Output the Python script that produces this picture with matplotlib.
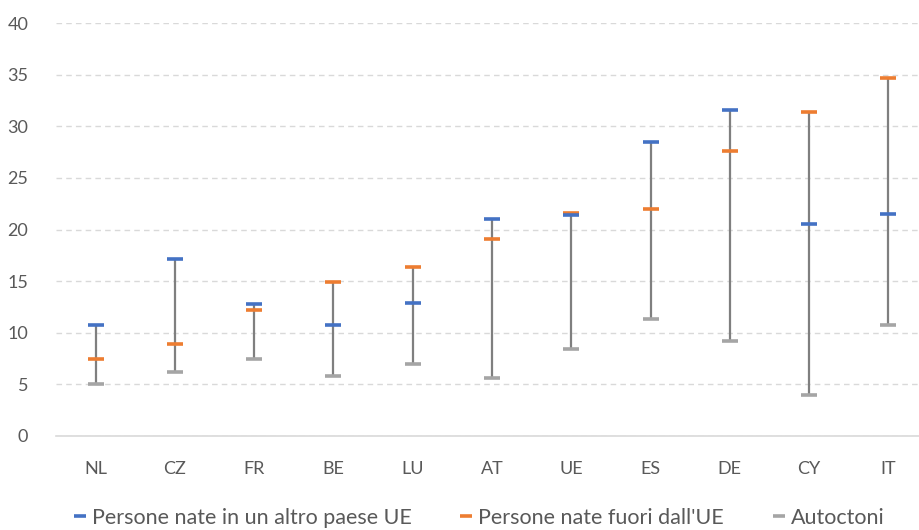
import matplotlib.pyplot as plt
import numpy as np

plt.rcParams['font.family'] = ['Lato', 'DejaVu Sans']

paesi = ['NL', 'CZ', 'FR', 'BE', 'LU', 'AT', 'UE', 'ES', 'DE', 'CY', 'IT']
altro_ue = [10.7, 17.1, 12.8, 10.7, 12.9, 21.0, 21.4, 28.5, 31.6, 20.5, 21.5]
fuori_ue = [7.4, 8.9, 12.2, 14.9, 16.4, 19.1, 21.6, 22.0, 27.6, 31.4, 34.7]
autoctoni = [5.0, 6.2, 7.4, 5.8, 7.0, 5.6, 8.4, 11.3, 9.2, 3.9, 10.7]

c_blue = '#4472C4'
c_orange = '#ED7D31'
c_gray = '#A5A5A5'
c_text = '#595959'

fig = plt.figure(figsize=(9.2, 5.3), dpi=100)
ax = fig.add_axes([56 / 920, 1 - 435.7 / 530, 872 / 920, (435.7 - 23.3) / 530])

x = np.arange(len(paesi))
tutti = np.array([altro_ue, fuori_ue, autoctoni])
lo = tutti.min(axis=0)
hi = tutti.max(axis=0)

# high-low lines
ax.vlines(x, lo, hi, color='#7F7F7F', lw=1.6, zorder=2)

ax.plot(x, autoctoni, ls='none', marker='_', ms=11, mew=2.6, color=c_gray,
        label='Autoctoni', zorder=3)
ax.plot(x, fuori_ue, ls='none', marker='_', ms=11, mew=2.6, color=c_orange,
        label="Persone nate fuori dall'UE", zorder=4)
ax.plot(x, altro_ue, ls='none', marker='_', ms=11, mew=2.6, color=c_blue,
        label='Persone nate in un altro paese UE', zorder=5)

ax.set_xlim(-0.5, len(paesi) - 0.5)
ax.set_ylim(0, 40)
ax.set_yticks(range(0, 41, 5))
ax.set_xticks(x)
ax.set_xticklabels(paesi)

ax.yaxis.grid(True, color='#D9D9D9', ls=(0, (4, 3)), lw=1)
ax.set_axisbelow(True)
for s in ['top', 'right', 'left']:
    ax.spines[s].set_visible(False)
ax.spines['bottom'].set_color('#D9D9D9')
ax.spines['bottom'].set_linewidth(1.2)
ax.tick_params(axis='both', length=0, labelsize=13, colors=c_text)
ax.tick_params(axis='x', pad=18)
ax.tick_params(axis='y', pad=20)

h, l = ax.get_legend_handles_labels()
order = [2, 1, 0]
fig.legend([h[i] for i in order], [l[i] for i in order], loc='center',
           bbox_to_anchor=(0.52, 1 - 518 / 530), ncol=3, frameon=False,
           fontsize=15.5, labelcolor=c_text, handlelength=0.7, handletextpad=0.2,
           columnspacing=2.2, markerscale=0.8)

plt.savefig('out.png', dpi=100)
